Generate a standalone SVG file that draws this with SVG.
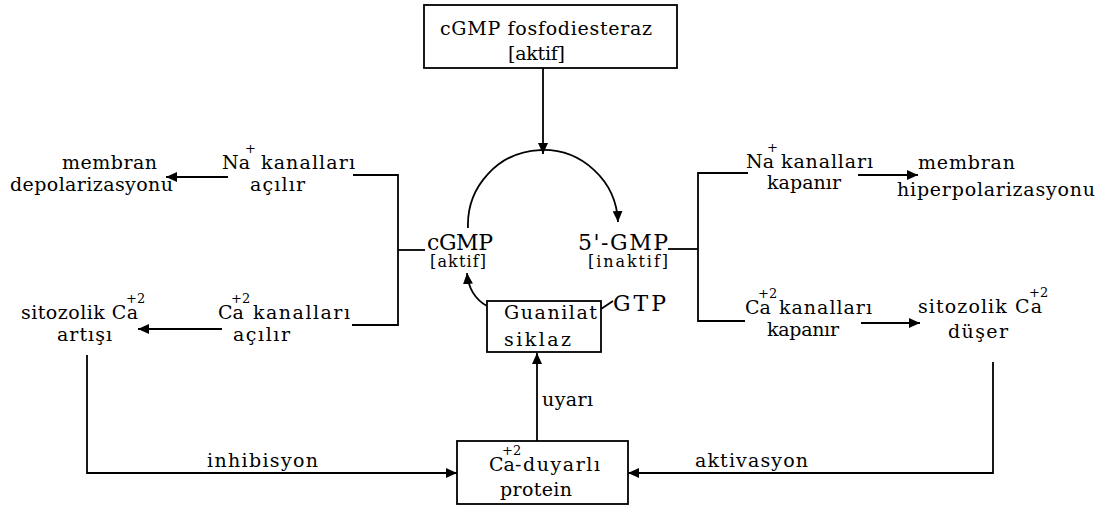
<svg xmlns="http://www.w3.org/2000/svg" width="1106" height="506" viewBox="0 0 1106 506">
<defs>
<marker id="ah" markerUnits="userSpaceOnUse" markerWidth="12" markerHeight="10" refX="11" refY="5" orient="auto">
<path d="M0,0 L11,5 L0,10 z" fill="#000"/>
</marker>
<style>
text{font-family:"DejaVu Serif","Liberation Serif",serif;font-size:19px;fill:#000}
.sup{font-size:13px}
.sm{font-size:16px}
.big{font-size:22px}
.box{fill:#fff;stroke:#000;stroke-width:1.8}
.ln{fill:none;stroke:#000;stroke-width:1.8}
</style>
</defs>
<rect width="1106" height="506" fill="#fff"/>

<g id="connectors">
<path class="ln" d="M543,68 V154" marker-end="url(#ah)"/>
<path class="ln" d="M468,228 A75,75 0 0 1 618,222" marker-end="url(#ah)"/>
<path class="ln" d="M487,306 Q469,296 467,273" marker-end="url(#ah)"/>
<path class="ln" d="M398,250 H425"/>
<path class="ln" d="M353,175 H398 V325 H352"/>
<path class="ln" d="M228,177 H166" marker-end="url(#ah)"/>
<path class="ln" d="M222,329 H138" marker-end="url(#ah)"/>
<path class="ln" d="M668,249 H698"/>
<path class="ln" d="M748,173 H698 V321 H745"/>
<path class="ln" d="M858,175 H918" marker-end="url(#ah)"/>
<path class="ln" d="M861,323 H920" marker-end="url(#ah)"/>
<path class="ln" d="M601,309 L613,301"/>
<path class="ln" d="M537,441 V353" marker-end="url(#ah)"/>
<path class="ln" d="M87,355 V473 H457" marker-end="url(#ah)"/>
<path class="ln" d="M993,362 V473 H628" marker-end="url(#ah)"/>
</g>

<g id="pde">
<rect class="box" x="424" y="5" width="253" height="63"/>
<text x="440" y="35" textLength="212">cGMP fosfodiesteraz</text>
<text x="508" y="60" textLength="57">[aktif]</text>
</g>

<g id="cgmp">
<text class="big" x="427" y="250" textLength="66">cGMP</text>
<text class="sm" x="430" y="267" textLength="56">[aktif]</text>
</g>

<g id="gmp5">
<text class="big" x="578" y="250" textLength="90">5'-GMP</text>
<text class="sm" x="588" y="267" textLength="80">[inaktif]</text>
</g>

<g id="gc">
<rect class="box" x="487" y="301" width="114" height="51"/>
<text x="504" y="319" textLength="93">Guanilat</text>
<text x="504" y="346" textLength="67">siklaz</text>
</g>

<g id="gtp">
<text class="big" x="613" y="311" textLength="53">GTP</text>
</g>

<g id="caprotein">
<rect class="box" x="457" y="441" width="171" height="63"/>
<text x="489" y="471">Ca<tspan class="sup" x="502" y="455">+2</tspan><tspan x="515" y="471" textLength="85">-duyarlı</tspan></text>
<text x="500" y="496" textLength="72">protein</text>
</g>

<g id="na-open">
<text x="222" y="169">Na<tspan class="sup" x="245" y="153">+</tspan><tspan x="261" y="169" textLength="94">kanalları</tspan></text>
<text x="250" y="191" textLength="55">açılır</text>
</g>

<g id="depol">
<text x="62" y="169" textLength="95">membran</text>
<text x="10" y="191" textLength="163">depolarizasyonu</text>
</g>

<g id="ca-open">
<text x="218" y="319">Ca<tspan class="sup" x="231" y="303">+2</tspan><tspan x="253" y="319" textLength="97">kanalları</tspan></text>
<text x="233" y="341" textLength="57">açılır</text>
</g>

<g id="ca-rise">
<text x="21" y="319"><tspan textLength="117">sitozolik Ca</tspan><tspan class="sup" x="126" y="303">+2</tspan></text>
<text x="57" y="341" textLength="55">artışı</text>
</g>

<g id="na-close">
<text x="746" y="168">Na<tspan class="sup" x="767" y="152">+</tspan><tspan x="781" y="168" textLength="92">kanalları</tspan></text>
<text x="767" y="189" textLength="74">kapanır</text>
</g>

<g id="hyperpol">
<text x="918" y="169" textLength="97">membran</text>
<text x="897" y="196" textLength="198">hiperpolarizasyonu</text>
</g>

<g id="ca-close">
<text x="745" y="314">Ca<tspan class="sup" x="758" y="298">+2</tspan><tspan x="779" y="314" textLength="93">kanalları</tspan></text>
<text x="767" y="336" textLength="72">kapanır</text>
</g>

<g id="ca-drop">
<text x="918" y="313"><tspan textLength="124">sitozolik Ca</tspan><tspan class="sup" x="1029" y="297">+2</tspan></text>
<text x="948" y="338" textLength="60">düşer</text>
</g>

<g id="labels">
<text x="542" y="406" textLength="51">uyarı</text>
<text x="207" y="467" textLength="111">inhibisyon</text>
<text x="695" y="467" textLength="113">aktivasyon</text>
</g>
</svg>
